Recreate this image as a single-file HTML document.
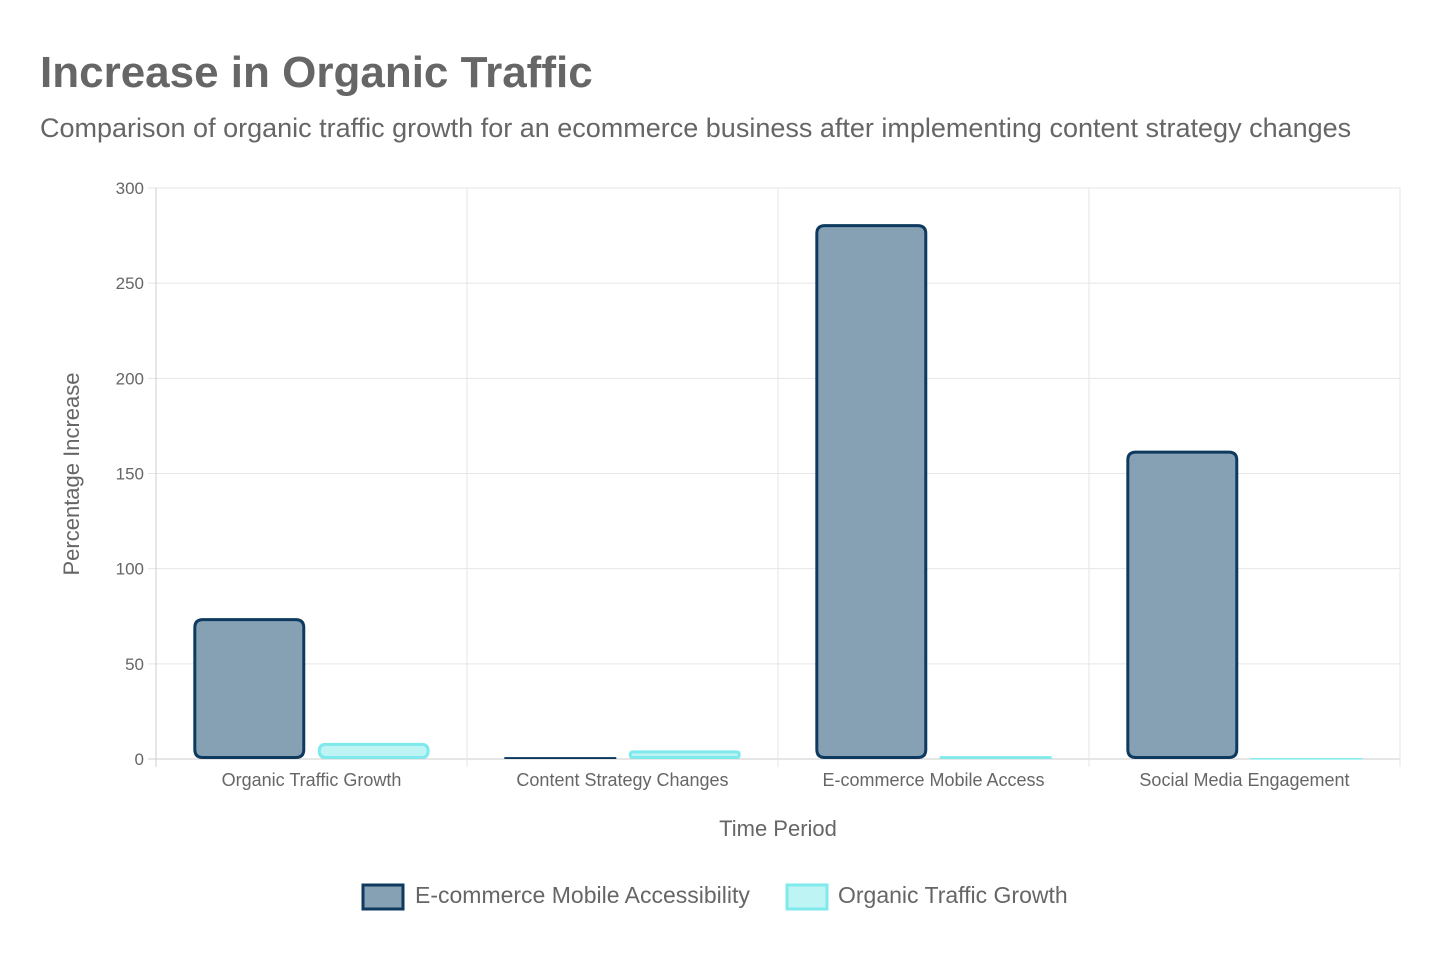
<!DOCTYPE html>
<html><head><meta charset="utf-8"><style>
body{margin:0;background:#fff;font-family:"Liberation Sans",Arial,sans-serif;}
svg text{font-family:"Liberation Sans",Arial,sans-serif;}
</style></head><body>
<svg id="chart" width="1440" height="960" xmlns="http://www.w3.org/2000/svg">
<text x="40" y="87" font-size="44" font-weight="bold" fill="#666">Increase in Organic Traffic</text>
<text x="40" y="137" font-size="27" fill="#666">Comparison of organic traffic growth for an ecommerce business after implementing content strategy changes</text>
<g id="grid"></g>
<g id="bars"></g>
<g id="labels"></g>
<text x="778" y="836" font-size="22" fill="#666" text-anchor="middle">Time Period</text>
<text transform="translate(79,474) rotate(-90)" font-size="22" fill="#666" text-anchor="middle">Percentage Increase</text>
<g>
<g>
<rect x="363" y="885" width="40" height="24" fill="#86a0b4" stroke="#0f3a5f" stroke-width="3"/>
<text x="415" y="903" font-size="23" fill="#666">E-commerce Mobile Accessibility</text>
</g>
<g>
<rect x="787" y="885" width="40" height="24" fill="#bff4f4" stroke="#7fe9ec" stroke-width="3"/>
<text x="838" y="903" font-size="23" fill="#666">Organic Traffic Growth</text>
</g>
</g>
</svg>
<script>
const categories = ["Organic Traffic Growth","Content Strategy Changes","E-commerce Mobile Access","Social Media Engagement"];
const seriesEcommerce = [74, 1, 281, 162];
const seriesOrganic = [8.5, 4.5, 1.5, 0.5];
const yTicks = [0, 50, 100, 150, 200, 250, 300];

const NS = "http://www.w3.org/2000/svg";
const L = 156, R = 1400, T = 188, B = 759, YMAX = 300;
const y = v => B - (v / YMAX) * (B - T);
const gw = (R - L) / categories.length;
const xg = i => L + i * gw;
function mk(tag, attrs, parent){const e=document.createElementNS(NS,tag);for(const k in attrs)e.setAttribute(k,attrs[k]);parent.appendChild(e);return e;}
const grid = document.getElementById('grid'), bars = document.getElementById('bars'), labels = document.getElementById('labels');
yTicks.forEach(t => {
  const ln = mk('line',{x1:L-8,x2:R,y1:y(t),y2:y(t),stroke:t===0?'#ccc':'#e6e6e6','stroke-width':1},grid);
  
  
  const tx = mk('text',{x:144,y:y(t)+6,'font-size':17,fill:'#666','text-anchor':'end'},labels);
  tx.textContent = t;
  
  
});
for (let i = 0; i <= categories.length; i++) {
  const ln = mk('line',{x1:xg(i),x2:xg(i),y1:T,y2:B+8,stroke:i===0?'#ccc':'#e6e6e6','stroke-width':1},grid);
  
  
}
function roundedTop(x, w, top, bottom, r){
  const h = bottom - top; r = Math.min(r, h/2, w/2);
  return `M${x},${bottom-r} L${x},${top+r} Q${x},${top} ${x+r},${top} L${x+w-r},${top} Q${x+w},${top} ${x+w},${top+r} L${x+w},${bottom-r} Q${x+w},${bottom} ${x+w-r},${bottom} L${x+r},${bottom} Q${x},${bottom} ${x},${bottom-r} Z`;
}
const series = [
  {vals: seriesEcommerce, fill:'#86a0b4', stroke:'#0f3a5f', name:'bar-ecommerce'},
  {vals: seriesOrganic, fill:'#bff4f4', stroke:'#7fe9ec', name:'bar-organic'}
];
categories.forEach((c, i) => {
  const inner = gw * 0.8, slot = inner / 2, bw = slot * 0.9;
  series.forEach((s, j) => {
    const x = xg(i) + gw * 0.1 + j * slot + (slot - bw) / 2 + 1.5;
    const top = y(s.vals[i]) + 1.5, bottom = B - 1.5;
    const w = bw - 3;
    let p;
    if (bottom - top < 3) {
      p = mk('rect',{x:x-1.5,y:y(s.vals[i]),width:w+3,height:Math.max(B-y(s.vals[i]),1.5),fill:s.stroke},bars);
    } else {
      p = mk('path',{d:roundedTop(x,w,top,bottom,8),fill:s.fill,stroke:s.stroke,'stroke-width':3},bars);
    }
    
    
  });
  const tx = mk('text',{x:xg(i)+gw/2,y:786,'font-size':18,fill:'#666','text-anchor':'middle'},labels);
  tx.textContent = c;
  
  
});
</script>
</body></html>
